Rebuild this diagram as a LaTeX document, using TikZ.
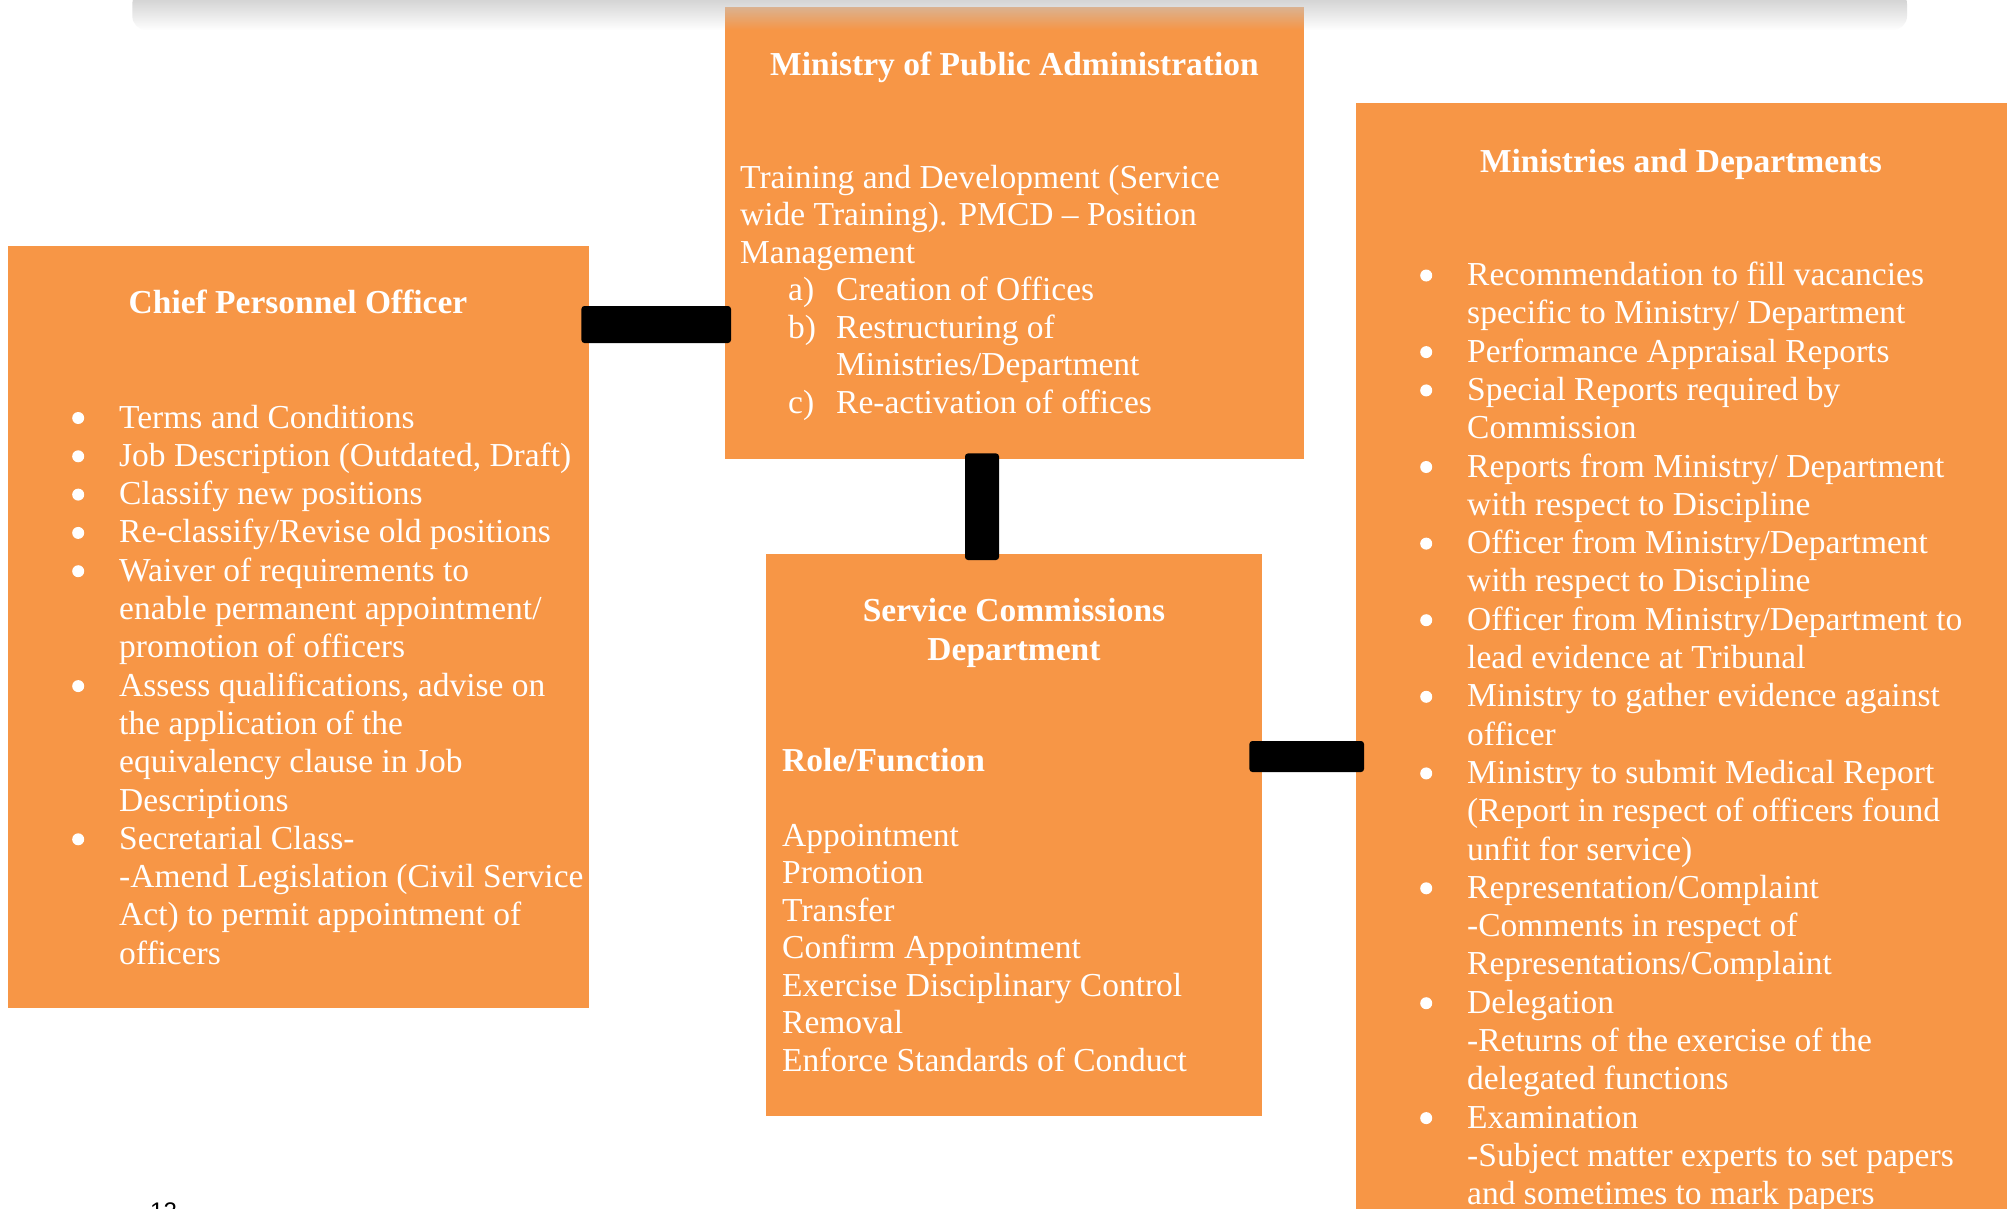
\documentclass[tikz,border=0pt]{standalone}
\usepackage{fontspec}
\setmainfont{Liberation Serif}
\newfontfamily\pagenumfont{Liberation Sans}
\usetikzlibrary{fadings}

\definecolor{boxorange}{RGB}{247,150,70}
\tikzfading[name=topshade, top color=transparent!0, bottom color=transparent!100]

% body text sizes (size / line distance)
\newcommand\listfont{\fontsize{33.5}{38.3}\selectfont}
\newcommand\tightfont{\fontsize{33.5}{37.5}\selectfont}
% round white bullet and hanging indent for list items
\newcommand\bul{\tikz[baseline=0pt]\fill[white] (6pt,10pt) circle[radius=6pt];}
\newcommand\bitem{\makebox[47pt][l]{\bul}}
\newcommand\cont{\hspace*{47pt}}

\tikzset{
  orangebox/.style={fill=boxorange, draw=none, inner sep=0pt, anchor=north west},
  boxtitle/.style={text=white, inner sep=0pt, anchor=base, font=\bfseries\fontsize{33.5}{39}\selectfont},
  boxtext/.style={text=white, inner sep=0pt, anchor=base west},
  bar/.style={fill=black, rounded corners=3pt}
}

\begin{document}
\begin{tikzpicture}[x=1pt,y=-1pt]
\useasboundingbox (0,0) rectangle (2009,1208);
\fill[white] (0,0) rectangle (2009,1208);

% boxes
\node[orangebox, minimum width=581pt, minimum height=762pt] (cpo) at (8,246) {};
\node[orangebox, minimum width=579pt, minimum height=452pt] (mpa) at (725,7) {};
\node[orangebox, minimum width=496pt, minimum height=562pt] (scd) at (766,554) {};
\node[orangebox, minimum width=651pt, minimum height=1117pt] (md) at (1356,103) {};

% connecting bars
\coordinate (h1a) at (0,306);
\coordinate (h1b) at (0,343);
\coordinate (v1a) at (965,0);
\coordinate (v1b) at (999,0);
\coordinate (h2a) at (0,741);
\coordinate (h2b) at (0,772);
\fill[bar] ([xshift=-8pt]cpo.east |- h1a) rectangle ([xshift=6pt]mpa.west |- h1b);
\fill[bar] ([yshift=6pt]mpa.south -| v1a) rectangle ([yshift=-6pt]scd.north -| v1b);
\fill[bar] ([xshift=-13pt]scd.east |- h2a) rectangle ([xshift=8pt]md.west |- h2b);

% Ministry of Public Administration
\node[boxtitle] (mpatitle) at (1014.5,75) {Ministry of Public Administration};
\node[boxtext, font=\tightfont] (mpabody) at (740,188) {%
\begin{tabular}[t]{@{}l@{}}
Training and Development (Service\\
wide Training). PMCD – Position\\
Management\\
\hspace*{48pt}\makebox[48pt][l]{a)}Creation of Offices\\
\hspace*{48pt}\makebox[48pt][l]{b)}Restructuring of\\
\hspace*{96pt}Ministries/Department\\
\hspace*{48pt}\makebox[48pt][l]{c)}Re-activation of offices
\end{tabular}};

% Chief Personnel Officer
\node[boxtitle] (cpotitle) at (298,313) {Chief Personnel Officer};
\node[boxtext, font=\listfont] (cpobody) at (72,428) {%
\begin{tabular}[t]{@{}l@{}}
\bitem Terms and Conditions\\
\bitem Job Description (Outdated, Draft)\\
\bitem Classify new positions\\
\bitem Re-classify/Revise old positions\\
\bitem Waiver of requirements to\\
\cont enable permanent appointment/\\
\cont promotion of officers\\
\bitem Assess qualifications, advise on\\
\cont the application of the\\
\cont equivalency clause in Job\\
\cont Descriptions\\
\bitem Secretarial Class-\\
\cont -Amend Legislation (Civil Service\\
\cont Act) to permit appointment of\\
\cont officers
\end{tabular}};

% Service Commissions Department
\node[boxtitle] (scdtitle) at (1014,621) {%
\begin{tabular}[t]{@{}c@{}}Service Commissions\\Department\end{tabular}};
\node[boxtext, font=\bfseries\tightfont] (scdrole) at (782,771) {Role/Function};
\node[boxtext, font=\tightfont] (scdbody) at (782,846) {%
\begin{tabular}[t]{@{}l@{}}
Appointment\\
Promotion\\
Transfer\\
Confirm Appointment\\
Exercise Disciplinary Control\\
Removal\\
Enforce Standards of Conduct
\end{tabular}};

% Ministries and Departments
\node[boxtitle] (mdtitle) at (1681,172) {Ministries and Departments};
\node[boxtext, font=\listfont] (mdbody) at (1420,285.5) {%
\begin{tabular}[t]{@{}l@{}}
\bitem Recommendation to fill vacancies\\
\cont specific to Ministry/ Department\\
\bitem Performance Appraisal Reports\\
\bitem Special Reports required by\\
\cont Commission\\
\bitem Reports from Ministry/ Department\\
\cont with respect to Discipline\\
\bitem Officer from Ministry/Department\\
\cont with respect to Discipline\\
\bitem Officer from Ministry/Department to\\
\cont lead evidence at Tribunal\\
\bitem Ministry to gather evidence against\\
\cont officer\\
\bitem Ministry to submit Medical Report\\
\cont (Report in respect of officers found\\
\cont unfit for service)\\
\bitem Representation/Complaint\\
\cont -Comments in respect of\\
\cont Representations/Complaint\\
\bitem Delegation\\
\cont -Returns of the exercise of the\\
\cont delegated functions\\
\bitem Examination\\
\cont -Subject matter experts to set papers\\
\cont and sometimes to mark papers
\end{tabular}};

% page number
\node[anchor=base west, inner sep=0pt, font=\pagenumfont\fontsize{24}{28}\selectfont] (pagenum) at (150,1219) {12};

% shadow along the top edge
\fill[black!22, path fading=topshade, rounded corners=14pt] (135,-10) rectangle (1915,30);
\end{tikzpicture}
\end{document}
